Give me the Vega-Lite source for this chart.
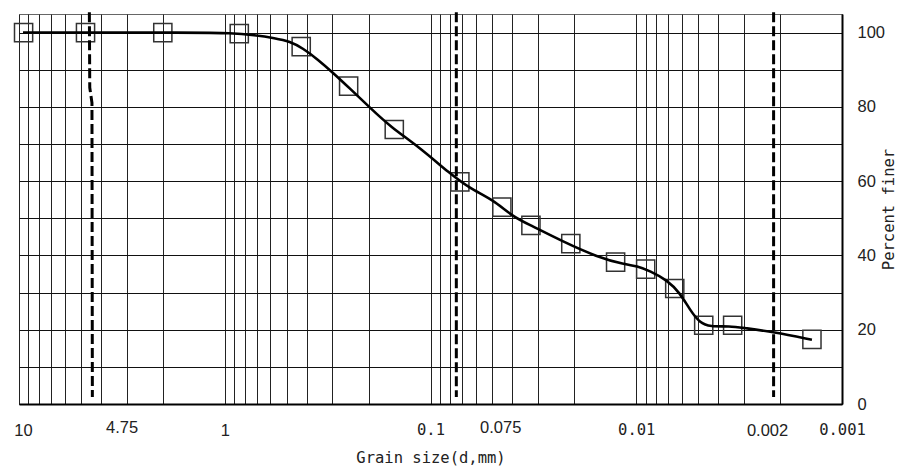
{
  "$schema": "https://vega.github.io/schema/vega-lite/v6.json",
  "width": 823,
  "height": 390,
  "autosize": "none",
  "padding": {"left": 19, "top": 14, "right": 73, "bottom": 64},
  "background": "white",
  "config": {"view": {"stroke": "#666", "strokeWidth": 1}},
  "datasets": {
    "pts": [
      {"x": 9.5, "y": 100}, {"x": 4.75, "y": 100}, {"x": 2.0, "y": 100}, {"x": 0.85, "y": 99.7},
      {"x": 0.425, "y": 96.2}, {"x": 0.25, "y": 85.6}, {"x": 0.15, "y": 73.9}, {"x": 0.072, "y": 59.8},
      {"x": 0.045, "y": 53.0}, {"x": 0.0325, "y": 48.1}, {"x": 0.0208, "y": 43.2}, {"x": 0.0126, "y": 38.2},
      {"x": 0.009, "y": 36.3}, {"x": 0.0065, "y": 31.1}, {"x": 0.0047, "y": 21.2}, {"x": 0.0034, "y": 21.2},
      {"x": 0.0014, "y": 17.4}
    ],
    "curve": [
      {"i": 1, "x": 9.56, "y": 100}, {"i": 2, "x": 1.32, "y": 100}, {"i": 3, "x": 0.943, "y": 99.9},
      {"i": 4, "x": 0.713, "y": 99.3}, {"i": 5, "x": 0.57, "y": 98.5}, {"i": 6, "x": 0.482, "y": 97.6},
      {"i": 7, "x": 0.417, "y": 95.8}, {"i": 8, "x": 0.352, "y": 92.7}, {"i": 9, "x": 0.298, "y": 89.2},
      {"i": 10, "x": 0.246, "y": 84.9}, {"i": 11, "x": 0.197, "y": 79.8}, {"i": 12, "x": 0.157, "y": 74.7},
      {"i": 13, "x": 0.1125, "y": 69.0}, {"i": 14, "x": 0.0804, "y": 62.0}, {"i": 15, "x": 0.0643, "y": 58.0},
      {"i": 16, "x": 0.0497, "y": 55.0}, {"i": 17, "x": 0.0397, "y": 50.4}, {"i": 18, "x": 0.0328, "y": 48.2},
      {"i": 19, "x": 0.0227, "y": 43.7}, {"i": 20, "x": 0.01551, "y": 39.6}, {"i": 21, "x": 0.01134, "y": 37.5},
      {"i": 22, "x": 0.00992, "y": 37.2}, {"i": 23, "x": 0.00858, "y": 35.8}, {"i": 24, "x": 0.00709, "y": 33.4},
      {"i": 25, "x": 0.00613, "y": 29.9}, {"i": 26, "x": 0.00548, "y": 25.3}, {"i": 27, "x": 0.0049, "y": 21.8},
      {"i": 28, "x": 0.00438, "y": 20.8}, {"i": 29, "x": 0.0035, "y": 21.0}, {"i": 30, "x": 0.00303, "y": 20.5},
      {"i": 31, "x": 0.00216, "y": 19.4}, {"i": 32, "x": 0.0014, "y": 17.3}
    ],
    "dash": [
      {"g": "a", "i": 1, "x": 4.55, "y": 105.5}, {"g": "a", "i": 2, "x": 4.53, "y": 85.2},
      {"g": "a", "i": 3, "x": 4.42, "y": 81.1}, {"g": "a", "i": 4, "x": 4.4, "y": 1.9},
      {"g": "b", "i": 1, "x": 0.0749, "y": 105.5}, {"g": "b", "i": 2, "x": 0.0749, "y": 1.9},
      {"g": "c", "i": 1, "x": 0.00215, "y": 105.5}, {"g": "c", "i": 2, "x": 0.00215, "y": 1.9}
    ]
  },
  "encoding": {
    "x": {
      "field": "x", "type": "quantitative",
      "scale": {"type": "log", "domain": [10, 0.001], "nice": false},
      "axis": {
        "values": [10, 9, 8, 7, 6, 5, 4.75, 4, 3, 2, 1, 0.9, 0.8, 0.7, 0.6, 0.5, 0.4, 0.3, 0.2, 0.1, 0.09, 0.08, 0.075, 0.07, 0.06, 0.05, 0.04, 0.03, 0.02, 0.01, 0.009, 0.008, 0.007, 0.006, 0.005, 0.004, 0.003, 0.002, 0.001],
        "title": "Grain size(d,mm)",
        "labelExpr": "indexof([10,4.75,1,0.1,0.075,0.01,0.002,0.001], datum.value) >= 0 ? '' + datum.value : ''",
        "labelFont": {"condition": {"test": "datum.value == 0.1 || datum.value == 0.01 || datum.value == 0.001", "value": "DejaVu Sans Mono"}, "value": "Liberation Sans"},
        "labelFontSize": {"condition": {"test": "datum.value == 0.1 || datum.value == 0.01 || datum.value == 0.001", "value": 15.5}, "value": 16.5},
        "labelOffset": {"condition": [
          {"test": "datum.value == 4.75", "value": 36},
          {"test": "datum.value == 0.075", "value": 44},
          {"test": "datum.value == 0.002", "value": -13},
          {"test": "datum.value == 10", "value": 4}
        ], "value": 0},
        "labelPadding": {"condition": {"test": "datum.value == 4.75 || datum.value == 0.075", "value": 15}, "value": 18},
        "labelColor": "#222",
        "labelOverlap": false,
        "labelFlush": false,
        "labelBound": false,
        "ticks": false,
        "domainColor": "black",
        "domainWidth": 2,
        "grid": true,
        "gridColor": "#222",
        "gridWidth": 1,
        "gridOpacity": {"condition": {"test": "datum.value == 4.75 || datum.value == 0.075", "value": 0}, "value": 1},
        "titleFont": "DejaVu Sans Mono",
        "titleFontSize": 15.5,
        "titleFontWeight": "normal",
        "titleColor": "#222",
        "titlePadding": 12
      }
    },
    "y": {
      "field": "y", "type": "quantitative",
      "scale": {"domain": [0, 105], "nice": false},
      "axis": {
        "orient": "right",
        "values": [0, 10, 20, 30, 40, 50, 60, 70, 80, 90, 100],
        "labelExpr": "datum.value % 20 == 0 ? '' + datum.value : ''",
        "ticks": false,
        "labelAlign": "left",
        "labelPadding": 15,
        "labelFont": "Liberation Sans",
        "labelFontSize": 16.5,
        "labelColor": "#222",
        "domainColor": "black",
        "domainWidth": 2,
        "grid": true,
        "gridColor": "#111",
        "gridWidth": 1,
        "title": "Percent finer",
        "titleAngle": 270,
        "titleFont": "DejaVu Sans Mono",
        "titleFontSize": 15.5,
        "titleFontWeight": "normal",
        "titleColor": "#222",
        "titlePadding": 12
      }
    }
  },
  "layer": [
    {
      "data": {"name": "pts"},
      "mark": {"type": "point", "shape": "square", "size": 330, "filled": false, "stroke": "#333", "strokeWidth": 1.5, "opacity": 1}
    },
    {
      "data": {"name": "curve"},
      "mark": {"type": "line", "color": "black", "strokeWidth": 2.6, "interpolate": "basis"},
      "encoding": {"order": {"field": "i", "type": "quantitative"}}
    },
    {
      "data": {"name": "dash"},
      "mark": {"type": "line", "color": "black", "strokeWidth": 3, "strokeDash": [10, 4]},
      "encoding": {"detail": {"field": "g", "type": "nominal"}, "order": {"field": "i", "type": "quantitative"}}
    }
  ]
}
